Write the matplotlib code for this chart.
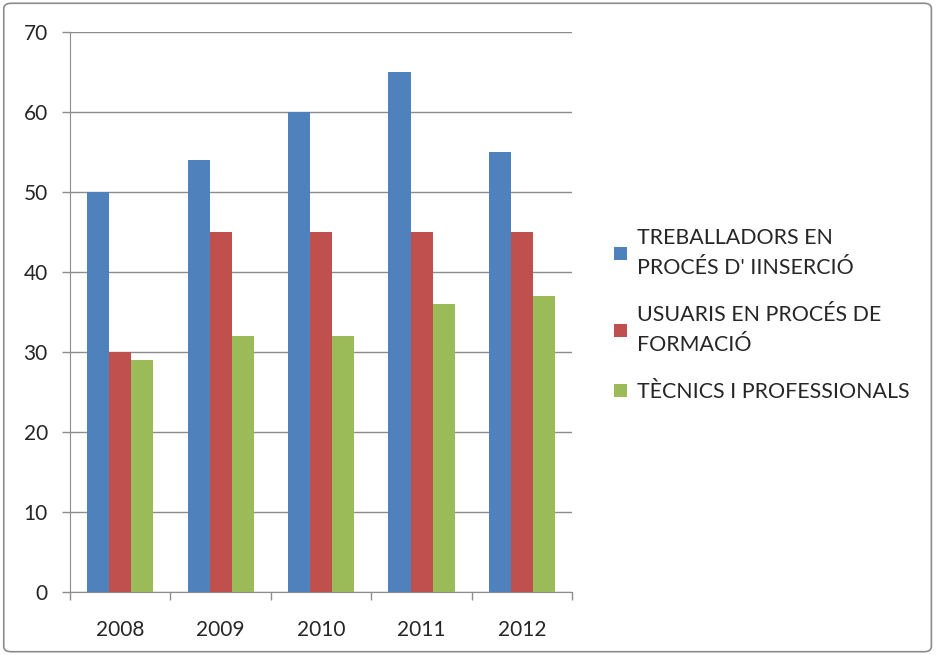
import numpy as np
import matplotlib.pyplot as plt
from matplotlib.patches import FancyBboxPatch

years = ['2008', '2009', '2010', '2011', '2012']
treballadors = [50, 54, 60, 65, 55]
usuaris = [30, 45, 45, 45, 45]
tecnics = [29, 32, 32, 36, 37]
labels = ["TREBALLADORS EN\nPROCÉS D' IINSERCIÓ",
          "USUARIS EN PROCÉS DE\nFORMACIÓ",
          "TÈCNICS I PROFESSIONALS"]
colors = ['#4F81BD', '#C0504D', '#9BBB59']

plt.rcParams['font.family'] = ['Lato', 'DejaVu Sans']

fig = plt.figure(figsize=(9.37, 6.55), dpi=100)
ax = fig.add_axes([0.0747, 0.0962, 0.536, 0.855])

x = np.arange(len(years))
w = 0.22
for i, (vals, c, lab) in enumerate(zip([treballadors, usuaris, tecnics], colors, labels)):
    ax.bar(x + (i - 1) * w, vals, width=w, color=c, label=lab, zorder=3)

ax.set_xlim(-0.5, len(years) - 0.5)
ax.set_ylim(0, 70)
ax.set_yticks(range(0, 71, 10))
ax.yaxis.grid(True, color='#8c8c8c', linewidth=1, zorder=0)
ax.set_xticks(x)
ax.set_xticklabels(years)
ax.set_xticks(np.arange(-0.5, len(years), 1), minor=True)
ax.tick_params(axis='x', which='major', length=0, pad=20, labelsize=15, labelcolor='#262626')
ax.tick_params(axis='x', which='minor', length=6, color='#8c8c8c', width=1)
ax.tick_params(axis='y', length=6, color='#8c8c8c', width=1, pad=10, labelsize=15, labelcolor='#262626')
for s in ['top', 'right']:
    ax.spines[s].set_visible(False)
for s in ['left', 'bottom']:
    ax.spines[s].set_color('#8c8c8c')

leg = ax.legend(loc='center left', bbox_to_anchor=(1.045, 0.495), frameon=False, fontsize=15.4,
                handlelength=0.6, handleheight=0.6, handletextpad=0.45, labelspacing=1.25,
                labelcolor='#262626')
for t in leg.get_texts():
    t.set_linespacing(1.65)

fig.patches.append(FancyBboxPatch((0.004, 0.005), 0.99, 0.99, boxstyle='round,pad=0,rounding_size=0.008',
                                  transform=fig.transFigure, fill=False, edgecolor='#8c8c8c', linewidth=1.2))

fig.savefig('out.png', dpi=100)
